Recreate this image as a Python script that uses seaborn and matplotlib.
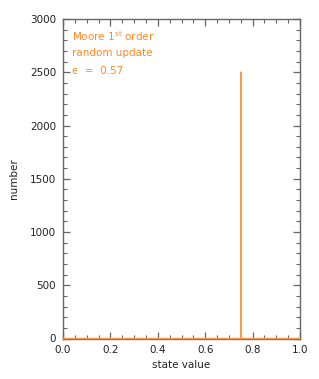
import matplotlib
matplotlib.use("Agg")
import matplotlib.pyplot as plt
import seaborn as sns
from matplotlib.ticker import MultipleLocator

# data
state_values = [0.75]
counts = [2500]
x_ticks = [0.0, 0.2, 0.4, 0.6, 0.8, 1.0]
y_ticks = [0, 500, 1000, 1500, 2000, 2500, 3000]

sns.set_theme(style="ticks")
plt.rcParams['font.family'] = ['DejaVu Sans']

orange = "#FF8A2A"
fig = plt.figure(figsize=(3.19, 3.79), dpi=100)
ax = fig.add_axes([63/319, 1 - 338.5/379, (300-63)/319, (338.5-19)/379])

sns.histplot(x=state_values, weights=counts, bins=1000, binrange=(0, 1),
             element="step", fill=False, color="#FF9A4A", linewidth=1.1, ax=ax)
for art in ax.lines + ax.patches + list(ax.collections):
    art.set_clip_on(False)
    art.set_zorder(5)

ax.set_xlim(0, 1)
ax.set_ylim(0, 3000)
ax.set_xticks(x_ticks)
ax.set_xticklabels([f"{v:.1f}" for v in x_ticks])
ax.set_yticks(y_ticks)
ax.set_yticklabels([str(v) for v in y_ticks])
ax.xaxis.set_minor_locator(MultipleLocator(0.05))
ax.yaxis.set_minor_locator(MultipleLocator(100))
ax.tick_params(which="both", direction="in", top=True, right=True,
               color="#666666", labelsize=7.5, labelcolor="#222222", pad=5)
ax.tick_params(which="major", length=5, width=0.9)
ax.tick_params(which="minor", length=3, width=0.8)
for s in ax.spines.values():
    s.set_color("#666666")
    s.set_linewidth(1.0)

ax.set_xlabel("state value", fontsize=7.5, color="#222222", labelpad=3)
ax.set_ylabel("number", fontsize=7.5, color="#222222", labelpad=8)

ax.text(0.04, 0.945, "Moore 1$^{\\mathregular{st}}$ order", transform=ax.transAxes,
        color=orange, fontsize=7.5, va="center", ha="left")
ax.text(0.04, 0.895, "random update", transform=ax.transAxes,
        color=orange, fontsize=7.5, va="center", ha="left")
ax.text(0.04, 0.836, "\u03f5  =  0.57", transform=ax.transAxes,
        color=orange, fontsize=7.5, va="center", ha="left")

fig.savefig("out.png", dpi=100)
